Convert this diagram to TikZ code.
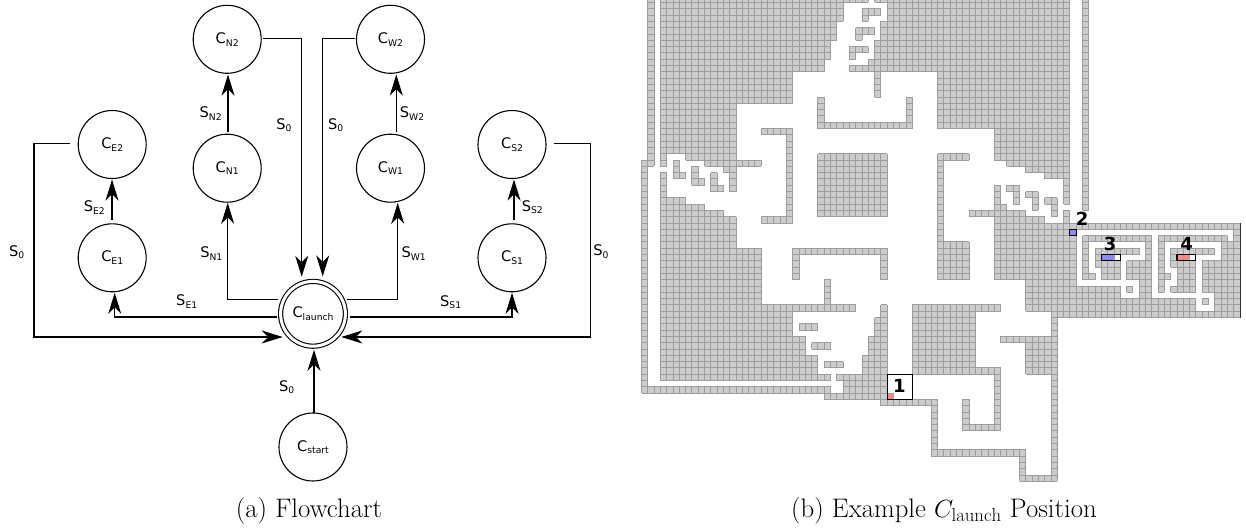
\documentclass[tikz,border=0pt]{standalone}
\usepackage{fontspec}
\usetikzlibrary{arrows.meta}
\newfontfamily\djv{DejaVu Sans}
\definecolor{cellfill}{HTML}{CCCCCC}
\definecolor{cellline}{HTML}{9C9C9C}
\definecolor{cellred}{HTML}{FF8888}
\definecolor{cellblue}{HTML}{8888FF}
\newcommand\sublab[2]{{\djv\fontsize{14.6}{15}\selectfont #1\raisebox{-2.6pt}{\fontsize{9.2}{10}\selectfont #2}}}
\tikzset{
  state/.style={circle,draw=black,line width=1.1pt,minimum size=68pt,inner sep=0pt,fill=white},
  launchstate/.style={circle,draw=black,double,double distance=3pt,line width=1.1pt,minimum size=64.8pt,inner sep=0pt},
  conn/.style={draw=black,line width=1.1pt},
  arr/.style={conn,-{Stealth[length=21pt,width=13pt,inset=6.5pt]}},
  lab/.style={inner sep=0pt},
  mapnum/.style={inner sep=0pt,font=\djv\bfseries\fontsize{18}{18}\selectfont},
  captiontext/.style={inner sep=0pt,anchor=base,font=\fontsize{26.8}{28}\selectfont},
  gridpen/.style={draw=cellline,line width=0.95pt},
}
\begin{document}
\begin{tikzpicture}[x=1pt,y=-1pt]
\useasboundingbox (0,0) rectangle (1246,527);
% ---------- map ----------
\begin{scope}
\clip (630,0) rectangle (1246,527);
\begin{scope}[shift={(641.5,481.3)},x=6.3pt,y=6.3pt]
\foreach \a/\b/\c/\d in {
 0/26/0/62, 1/0/1/26, 1/62/29/62,
 3/0/31/3, 3/4/30/6, 3/7/29/9, 3/10/28/11, 3/12/23/16, 3/17/14/24,
 3/25/3/26, 7/25/14/25, 10/26/18/26, 13/27/14/27, 14/28/14/30,
 32/0/35/0, 37/0/38/0,
 39/0/67/3, 38/4/67/6, 37/7/67/9, 36/10/67/10, 33/11/67/11, 47/12/67/20,
 56/21/67/25, 58/26/67/26, 61/27/67/27, 64/28/67/28, 67/29/67/32,
 5/26/5/28, 6/28/6/28, 8/27/8/29, 9/29/9/29, 11/28/11/30, 12/30/12/30,
 3/28/3/31, 3/32/6/32, 3/33/9/33, 3/34/12/34, 3/35/14/39, 3/40/18/48,
 3/49/33/49, 3/50/23/53, 3/54/25/56, 3/57/27/59, 3/60/29/60,
 25/52/27/52, 27/55/29/55, 29/58/31/58, 29/45/29/48,
 38/49/38/50, 37/51/38/53, 36/54/38/56, 35/57/38/59, 31/60/38/60,
 32/61/38/62, 29/63/38/63, 38/64/46/64, 46/65/46/72, 47/72/60/72,
 60/73/60/76, 61/76/65/76, 65/51/65/75, 57/54/64/54, 61/55/64/59,
 35/2/37/2, 35/3/35/3, 34/5/36/5, 34/6/34/6, 33/8/35/8, 33/9/33/9,
 37/12/37/15, 28/16/28/19, 28/20/42/20, 42/16/42/19,
 19/21/23/21, 23/22/23/34, 19/35/23/35, 28/25/38/34,
 24/40/38/40, 24/41/24/44, 38/41/38/44,
 43/49/56/49, 43/50/52/58, 43/59/56/59, 56/60/56/68, 51/68/55/68, 51/64/51/67,
 47/25/51/25, 47/26/47/38, 47/39/51/44,
 56/30/56/32, 56/33/57/33, 52/34/60/34, 56/35/63/35, 56/36/94/36,
 56/37/67/37, 56/38/68/44, 61/45/68/45, 61/46/75/47, 61/48/87/49, 65/50/94/50,
 67/34/67/35, 70/0/70/33,
 58/30/59/30, 59/31/59/32, 61/31/62/31, 62/32/62/33, 64/32/65/32, 65/33/65/34,
 94/37/94/49, 70/38/80/38, 70/39/70/44, 80/39/80/47, 79/45/79/47,
 72/40/78/40, 72/41/72/42, 73/42/75/44, 71/44/71/44, 77/42/79/44, 77/46/77/46,
 82/38/92/38, 82/39/82/46, 92/39/93/49, 84/40/90/40, 84/41/84/42, 85/42/87/46,
 83/44/83/44, 84/46/84/46, 89/42/91/46, 91/47/91/49, 89/48/89/48}
{
  \pgfmathtruncatemacro\xb{\c+1}
  \pgfmathtruncatemacro\ya{77-\b}
  \pgfmathtruncatemacro\yb{76-\d}
  \fill[cellfill] (\a,\ya) rectangle (\xb,\yb);
  \draw[gridpen,step=1] (\a,\ya) grid (\xb,\yb);
}
% highlighted positions
\fill[white] (39,17) rectangle (43,13);
\filldraw[fill=cellred,draw=cellline,line width=0.8pt] (39,14) rectangle (40,13);
\draw[black,line width=1.1pt] (39,17) rectangle (43,13);
\filldraw[fill=cellblue,draw=black,line width=1.1pt] (68,40) rectangle (69,39);
\fill[white] (73,36) rectangle (76,35);
\filldraw[fill=cellblue,draw=cellline,line width=0.8pt] (73,36) rectangle (74,35);
\filldraw[fill=cellblue,draw=cellline,line width=0.8pt] (74,36) rectangle (75,35);
\draw[black,line width=1.1pt] (73,36) rectangle (76,35);
\fill[white] (85,36) rectangle (88,35);
\filldraw[fill=cellred,draw=cellline,line width=0.8pt] (85,36) rectangle (86,35);
\filldraw[fill=cellred,draw=cellline,line width=0.8pt] (86,36) rectangle (87,35);
\draw[black,line width=1.1pt] (85,36) rectangle (88,35);
\draw[black!80,line width=0.8pt] (95,41) -- (95,26);
\end{scope}
\end{scope}
\node[mapnum] (n1) at (899.3,386) {1};
\node[mapnum] (n2) at (1082.2,218.7) {2};
\node[mapnum] (n3) at (1110,244) {3};
\node[mapnum] (n4) at (1186.7,244) {4};
% ---------- flowchart ----------
\node[state] (cN2) at (227.2,39.3) {\sublab{C}{N2}};
\node[state] (cN1) at (227.2,168.2) {\sublab{C}{N1}};
\node[state] (cW2) at (390.5,39.3) {\sublab{C}{W2}};
\node[state] (cW1) at (390.5,168.2) {\sublab{C}{W1}};
\node[state] (cE2) at (112.2,144.5) {\sublab{C}{E2}};
\node[state] (cE1) at (112.2,257.8) {\sublab{C}{E1}};
\node[state] (cS2) at (512,144.5) {\sublab{C}{S2}};
\node[state] (cS1) at (512,257.8) {\sublab{C}{S1}};
\node[launchstate] (launch) at (313,313.8) {\sublab{C}{launch}};
\node[state] (cStart) at (313,447) {\sublab{C}{start}};
\coordinate (wl) at (34,337);
\coordinate (el) at (590.3,337);
\draw[arr] ([xshift=1.1pt,yshift=1pt]cN2.east) -| ([xshift=-11.3pt,yshift=4.1pt]launch.north);
\draw[arr] ([xshift=-0.5pt,yshift=1pt]cW2.west) -| ([xshift=9.7pt,yshift=4.4pt]launch.north);
\draw[arr] ([xshift=0.8pt,yshift=1.9pt]cN1.north) -- ([xshift=0.8pt,yshift=-0.7pt]cN2.south);
\draw[arr] ([xshift=5.8pt,yshift=1.9pt]cW1.north) -- ([xshift=5.8pt,yshift=-0.7pt]cW2.south);
\draw[arr] ([xshift=-2.3pt,yshift=14.5pt]launch.west) -| ([xshift=0.5pt,yshift=-0.1pt]cN1.south);
\draw[arr] ([xshift=0.6pt,yshift=14.5pt]launch.east) -| ([xshift=7.2pt,yshift=-0.1pt]cW1.south);
\draw[arr] ([xshift=-3.3pt,yshift=-3.2pt]launch.west) -| ([xshift=2.5pt,yshift=-0.5pt]cE1.south);
\draw[arr] ([xshift=3.6pt,yshift=-3.2pt]launch.east) -| ([yshift=-0.5pt]cS1.south);
\draw[arr] ([xshift=-0.2pt,yshift=3.1pt]cE1.north) -- ([xshift=-0.2pt,yshift=-0.5pt]cE2.south);
\draw[arr] ([xshift=2pt,yshift=3.1pt]cS1.north) -- ([xshift=2pt,yshift=-0.5pt]cS2.south);
\draw[arr] ([xshift=-7.2pt,yshift=0.8pt]cE2.west) -| (wl) -- ([xshift=2.7pt,yshift=-23.2pt]launch.west);
\draw[arr] ([xshift=7.3pt,yshift=0.8pt]cS2.east) -| (el) -- ([xshift=-4.7pt,yshift=-23.2pt]launch.east);
\draw[arr] ([xshift=1pt,yshift=-0.3pt]cStart.north) -- ([xshift=1pt,yshift=-3.1pt]launch.south);
\node[lab] (s1) at (210.7,113.3) {\sublab{S}{N2}};
\node[lab] (s2) at (284,125) {\sublab{S}{0}};
\node[lab] (s3) at (94.3,207.3) {\sublab{S}{E2}};
\node[lab] (s4) at (16.7,252) {\sublab{S}{0}};
\node[lab] (s5) at (211.3,253.3) {\sublab{S}{N1}};
\node[lab] (s6) at (412,113.3) {\sublab{S}{W2}};
\node[lab] (s7) at (335.7,125) {\sublab{S}{0}};
\node[lab] (s8) at (532.3,207.3) {\sublab{S}{S2}};
\node[lab] (s9) at (413.7,253.3) {\sublab{S}{W1}};
\node[lab] (s10) at (601,251.7) {\sublab{S}{0}};
\node[lab] (s11) at (186.7,301.7) {\sublab{S}{E1}};
\node[lab] (s12) at (450.7,302.3) {\sublab{S}{S1}};
\node[lab] (s13) at (286.7,387) {\sublab{S}{0}};
% ---------- captions ----------
\node[captiontext] (capa) at (309,517.5) {(a) Flowchart};
\node[captiontext] (capb) at (944,517.5) {(b) Example $C_{\mathrm{launch}}$ Position};
\end{tikzpicture}
\end{document}
